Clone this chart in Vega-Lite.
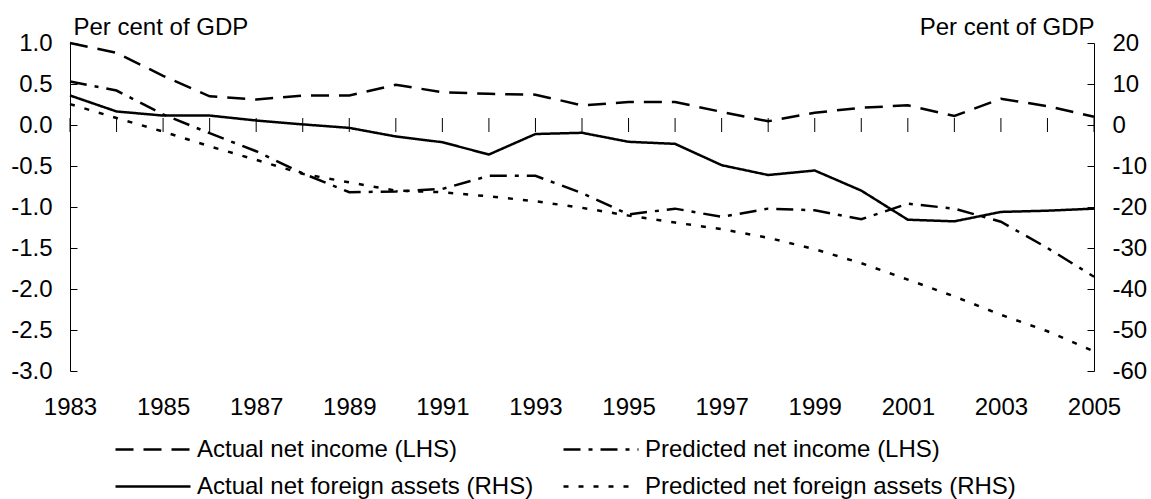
{
  "$schema": "https://vega.github.io/schema/vega-lite/v6.json",
  "width": 1024,
  "height": 328,
  "autosize": {"type": "none"},
  "padding": {"left": 70, "top": 43, "right": 57, "bottom": 128},
  "background": "white",
  "config": {
    "view": {"stroke": null},
    "font": "Liberation Sans",
    "axis": {"labelFont": "Liberation Sans", "titleFont": "Liberation Sans", "labelFontSize": 24, "titleFontSize": 24, "labelColor": "black", "titleColor": "black", "domainColor": "black", "tickColor": "black", "grid": false, "titleFontWeight": "normal"},
    "legend": {"labelFont": "Liberation Sans", "labelFontSize": 24, "labelColor": "black"}
  },
  "datasets": {
    "income": [
      {"year": 1983, "series": "Actual net income (LHS)", "value": 1.0},
      {"year": 1984, "series": "Actual net income (LHS)", "value": 0.88},
      {"year": 1985, "series": "Actual net income (LHS)", "value": 0.6},
      {"year": 1986, "series": "Actual net income (LHS)", "value": 0.35},
      {"year": 1987, "series": "Actual net income (LHS)", "value": 0.31},
      {"year": 1988, "series": "Actual net income (LHS)", "value": 0.36},
      {"year": 1989, "series": "Actual net income (LHS)", "value": 0.36},
      {"year": 1990, "series": "Actual net income (LHS)", "value": 0.49},
      {"year": 1991, "series": "Actual net income (LHS)", "value": 0.4},
      {"year": 1992, "series": "Actual net income (LHS)", "value": 0.38},
      {"year": 1993, "series": "Actual net income (LHS)", "value": 0.37},
      {"year": 1994, "series": "Actual net income (LHS)", "value": 0.24},
      {"year": 1995, "series": "Actual net income (LHS)", "value": 0.28},
      {"year": 1996, "series": "Actual net income (LHS)", "value": 0.28},
      {"year": 1997, "series": "Actual net income (LHS)", "value": 0.16},
      {"year": 1998, "series": "Actual net income (LHS)", "value": 0.045},
      {"year": 1999, "series": "Actual net income (LHS)", "value": 0.15},
      {"year": 2000, "series": "Actual net income (LHS)", "value": 0.21},
      {"year": 2001, "series": "Actual net income (LHS)", "value": 0.24},
      {"year": 2002, "series": "Actual net income (LHS)", "value": 0.11},
      {"year": 2003, "series": "Actual net income (LHS)", "value": 0.32},
      {"year": 2004, "series": "Actual net income (LHS)", "value": 0.23},
      {"year": 2005, "series": "Actual net income (LHS)", "value": 0.1},
      {"year": 1983, "series": "Predicted net income (LHS)", "value": 0.53},
      {"year": 1984, "series": "Predicted net income (LHS)", "value": 0.42},
      {"year": 1985, "series": "Predicted net income (LHS)", "value": 0.13},
      {"year": 1986, "series": "Predicted net income (LHS)", "value": -0.1},
      {"year": 1987, "series": "Predicted net income (LHS)", "value": -0.32},
      {"year": 1988, "series": "Predicted net income (LHS)", "value": -0.59},
      {"year": 1989, "series": "Predicted net income (LHS)", "value": -0.82},
      {"year": 1990, "series": "Predicted net income (LHS)", "value": -0.81},
      {"year": 1991, "series": "Predicted net income (LHS)", "value": -0.78},
      {"year": 1992, "series": "Predicted net income (LHS)", "value": -0.62},
      {"year": 1993, "series": "Predicted net income (LHS)", "value": -0.62},
      {"year": 1994, "series": "Predicted net income (LHS)", "value": -0.83},
      {"year": 1995, "series": "Predicted net income (LHS)", "value": -1.09},
      {"year": 1996, "series": "Predicted net income (LHS)", "value": -1.02},
      {"year": 1997, "series": "Predicted net income (LHS)", "value": -1.12},
      {"year": 1998, "series": "Predicted net income (LHS)", "value": -1.02},
      {"year": 1999, "series": "Predicted net income (LHS)", "value": -1.04},
      {"year": 2000, "series": "Predicted net income (LHS)", "value": -1.15},
      {"year": 2001, "series": "Predicted net income (LHS)", "value": -0.96},
      {"year": 2002, "series": "Predicted net income (LHS)", "value": -1.02},
      {"year": 2003, "series": "Predicted net income (LHS)", "value": -1.18},
      {"year": 2004, "series": "Predicted net income (LHS)", "value": -1.5},
      {"year": 2005, "series": "Predicted net income (LHS)", "value": -1.85}
    ],
    "assets": [
      {"year": 1983, "series": "Actual net foreign assets (RHS)", "value": 7.2},
      {"year": 1984, "series": "Actual net foreign assets (RHS)", "value": 3.3},
      {"year": 1985, "series": "Actual net foreign assets (RHS)", "value": 2.3},
      {"year": 1986, "series": "Actual net foreign assets (RHS)", "value": 2.3},
      {"year": 1987, "series": "Actual net foreign assets (RHS)", "value": 1.1},
      {"year": 1988, "series": "Actual net foreign assets (RHS)", "value": 0.15},
      {"year": 1989, "series": "Actual net foreign assets (RHS)", "value": -0.7},
      {"year": 1990, "series": "Actual net foreign assets (RHS)", "value": -2.8},
      {"year": 1991, "series": "Actual net foreign assets (RHS)", "value": -4.2},
      {"year": 1992, "series": "Actual net foreign assets (RHS)", "value": -7.2},
      {"year": 1993, "series": "Actual net foreign assets (RHS)", "value": -2.2},
      {"year": 1994, "series": "Actual net foreign assets (RHS)", "value": -1.9},
      {"year": 1995, "series": "Actual net foreign assets (RHS)", "value": -4.1},
      {"year": 1996, "series": "Actual net foreign assets (RHS)", "value": -4.6},
      {"year": 1997, "series": "Actual net foreign assets (RHS)", "value": -9.8},
      {"year": 1998, "series": "Actual net foreign assets (RHS)", "value": -12.2},
      {"year": 1999, "series": "Actual net foreign assets (RHS)", "value": -11.1},
      {"year": 2000, "series": "Actual net foreign assets (RHS)", "value": -16.0},
      {"year": 2001, "series": "Actual net foreign assets (RHS)", "value": -23.1},
      {"year": 2002, "series": "Actual net foreign assets (RHS)", "value": -23.5},
      {"year": 2003, "series": "Actual net foreign assets (RHS)", "value": -21.2},
      {"year": 2004, "series": "Actual net foreign assets (RHS)", "value": -20.9},
      {"year": 2005, "series": "Actual net foreign assets (RHS)", "value": -20.4},
      {"year": 1983, "series": "Predicted net foreign assets (RHS)", "value": 5.1},
      {"year": 1984, "series": "Predicted net foreign assets (RHS)", "value": 1.7},
      {"year": 1985, "series": "Predicted net foreign assets (RHS)", "value": -1.6},
      {"year": 1986, "series": "Predicted net foreign assets (RHS)", "value": -5.2},
      {"year": 1987, "series": "Predicted net foreign assets (RHS)", "value": -8.5},
      {"year": 1988, "series": "Predicted net foreign assets (RHS)", "value": -11.9},
      {"year": 1989, "series": "Predicted net foreign assets (RHS)", "value": -14.0},
      {"year": 1990, "series": "Predicted net foreign assets (RHS)", "value": -16.0},
      {"year": 1991, "series": "Predicted net foreign assets (RHS)", "value": -16.4},
      {"year": 1992, "series": "Predicted net foreign assets (RHS)", "value": -17.4},
      {"year": 1993, "series": "Predicted net foreign assets (RHS)", "value": -18.6},
      {"year": 1994, "series": "Predicted net foreign assets (RHS)", "value": -20.2},
      {"year": 1995, "series": "Predicted net foreign assets (RHS)", "value": -22.1},
      {"year": 1996, "series": "Predicted net foreign assets (RHS)", "value": -23.8},
      {"year": 1997, "series": "Predicted net foreign assets (RHS)", "value": -25.4},
      {"year": 1998, "series": "Predicted net foreign assets (RHS)", "value": -27.5},
      {"year": 1999, "series": "Predicted net foreign assets (RHS)", "value": -30.3},
      {"year": 2000, "series": "Predicted net foreign assets (RHS)", "value": -33.7},
      {"year": 2001, "series": "Predicted net foreign assets (RHS)", "value": -37.7},
      {"year": 2002, "series": "Predicted net foreign assets (RHS)", "value": -41.8},
      {"year": 2003, "series": "Predicted net foreign assets (RHS)", "value": -46.3},
      {"year": 2004, "series": "Predicted net foreign assets (RHS)", "value": -50.3},
      {"year": 2005, "series": "Predicted net foreign assets (RHS)", "value": -55.2}
    ]
  },
  "encoding": {
    "x": {
      "field": "year", "type": "quantitative",
      "scale": {"domain": [1983, 2005], "nice": false, "zero": false},
      "axis": {"title": null, "values": [1983, 1985, 1987, 1989, 1991, 1993, 1995, 1997, 1999, 2001, 2003, 2005], "format": "d", "domain": false, "ticks": false, "labelPadding": 43, "labelBaseline": "alphabetic", "labelFlush": false}
    }
  },
  "layer": [
    {
      "layer": [
        {
          "data": {"name": "income"},
          "mark": {"type": "line", "color": "black", "strokeWidth": 2.5},
          "encoding": {
            "y": {"field": "value", "type": "quantitative",
              "scale": {"domain": [-3, 1], "nice": false, "zero": false},
              "axis": {"title": "Per cent of GDP", "orient": "left", "values": [-3, -2.5, -2, -1.5, -1, -0.5, 0, 0.5, 1], "labelExpr": "replace(format(datum.value, '.1f'), '\u2212', '-')", "tickSize": -7, "labelPadding": 25, "titleAngle": 0, "titleAlign": "left", "titleBaseline": "alphabetic", "titleX": 3, "titleY": -9, "labelFlush": false}},
            "strokeDash": {"field": "series", "type": "nominal",
              "scale": {"domain": ["Actual net income (LHS)", "Predicted net income (LHS)", "Actual net foreign assets (RHS)", "Predicted net foreign assets (RHS)"],
                "range": [[18, 10], [17, 8, 4, 8], [1, 0], [5, 10]]},
              "legend": {"title": null, "orient": "none", "legendX": 44, "legendY": 388, "columns": 2, "direction": "horizontal", "symbolType": "stroke", "symbolSize": 5625, "symbolStrokeWidth": 2.5, "symbolStrokeColor": "black", "labelLimit": 420, "labelOffset": 5, "columnPadding": 28, "rowPadding": 0, "clipHeight": 37, "padding": 0}}
          }
        },
        {
          "data": {"name": "income"},
          "mark": {"type": "rule", "color": "black", "strokeWidth": 1},
          "encoding": {"y": {"datum": 0}}
        },
        {
          "data": {"name": "income"},
          "transform": [{"filter": "datum.series === 'Actual net income (LHS)'"}],
          "mark": {"type": "tick", "orient": "vertical", "size": 14, "thickness": 1, "color": "black", "opacity": 1},
          "encoding": {"y": {"datum": 0}}
        }
      ]
    },
    {
      "data": {"name": "assets"},
      "mark": {"type": "line", "color": "black", "strokeWidth": 2.5},
      "encoding": {
        "y": {"field": "value", "type": "quantitative",
          "scale": {"domain": [-60, 20], "nice": false, "zero": false},
          "axis": {"title": "Per cent of GDP", "orient": "right", "values": [-60, -50, -40, -30, -20, -10, 0, 10, 20], "labelExpr": "replace(format(datum.value, 'd'), '\u2212', '-')", "tickSize": -7, "labelPadding": 25, "titleAngle": 0, "titleAlign": "right", "titleBaseline": "alphabetic", "titleX": 0, "titleY": -9, "labelFlush": false}},
        "strokeDash": {"field": "series", "type": "nominal"}
      }
    }
  ],
  "resolve": {"scale": {"y": "independent"}}
}
